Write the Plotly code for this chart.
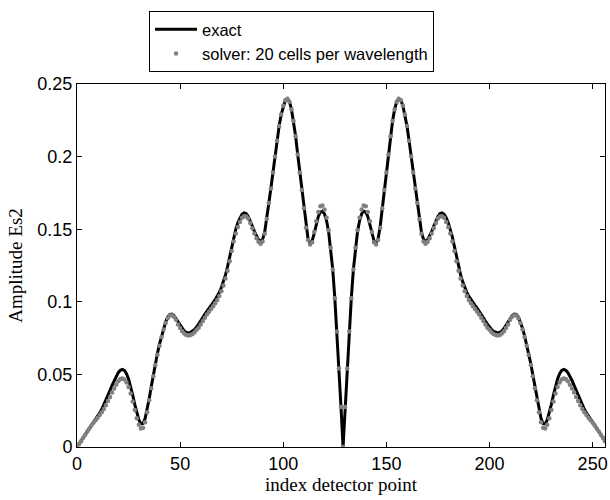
import plotly.graph_objects as go

# detector index 0..256
index = list(range(257))

exact_left = [0.0, 0.002, 0.004, 0.0063, 0.0085, 0.0107, 0.0128, 0.015, 0.017, 0.019,
 0.0212, 0.0235, 0.026, 0.029, 0.0322, 0.0356, 0.039, 0.0425, 0.0458, 0.0488,
 0.0512, 0.0528, 0.0534, 0.0527, 0.0505, 0.0468, 0.0418, 0.0358, 0.0294, 0.0233,
 0.0186, 0.016, 0.0162, 0.0195, 0.0255, 0.0332, 0.0415, 0.0497, 0.0575, 0.0645,
 0.0708, 0.0766, 0.0818, 0.0862, 0.0895, 0.0913, 0.0915, 0.0905, 0.0885, 0.0862,
 0.0838, 0.0816, 0.0799, 0.0789, 0.0786, 0.0789, 0.0797, 0.0809, 0.0826, 0.0846,
 0.0868, 0.0892, 0.0915, 0.0937, 0.0957, 0.0976, 0.0995, 0.1015, 0.1038, 0.1065,
 0.1098, 0.1138, 0.1185, 0.1243, 0.131, 0.138, 0.1445, 0.150, 0.1545, 0.158,
 0.1603, 0.1612, 0.1608, 0.1588, 0.1558, 0.1522, 0.1485, 0.1452, 0.1428, 0.1415,
 0.143, 0.148, 0.157, 0.168, 0.178, 0.189, 0.200, 0.211, 0.221, 0.229,
 0.235, 0.2388, 0.2398, 0.2378, 0.2325, 0.2245, 0.214, 0.2015, 0.189, 0.177,
 0.1645, 0.152, 0.1435, 0.1405, 0.142, 0.147, 0.1535, 0.1588, 0.1618, 0.1625,
 0.1605, 0.1558, 0.1482, 0.1372, 0.1222, 0.1025, 0.0795, 0.054, 0.0276, 0.0]

exact_right = [0.0276, 0.054, 0.0795, 0.1025, 0.1222, 0.1372, 0.1482, 0.1558, 0.1605,
 0.1625, 0.1618, 0.1588, 0.1535, 0.147, 0.142, 0.1405, 0.1435, 0.152, 0.1645,
 0.177, 0.189, 0.2015, 0.214, 0.2245, 0.2325, 0.2378, 0.2398, 0.2388, 0.235,
 0.229, 0.221, 0.211, 0.200, 0.189, 0.178, 0.168, 0.157, 0.148, 0.143,
 0.1415, 0.1428, 0.1452, 0.1485, 0.1522, 0.1558, 0.1588, 0.1608, 0.1612, 0.1603,
 0.158, 0.1545, 0.150, 0.1445, 0.138, 0.131, 0.1243, 0.1185, 0.1138, 0.1098,
 0.1065, 0.1038, 0.1015, 0.0995, 0.0976, 0.0957, 0.0937, 0.0915, 0.0892, 0.0868,
 0.0846, 0.0826, 0.0809, 0.0797, 0.0789, 0.0786, 0.0789, 0.0799, 0.0816, 0.0838,
 0.0862, 0.0885, 0.0905, 0.0915, 0.0913, 0.0895, 0.0862, 0.0818, 0.0766, 0.0708,
 0.0645, 0.0575, 0.0497, 0.0415, 0.0332, 0.0255, 0.0195, 0.0162, 0.016, 0.0186,
 0.0233, 0.0294, 0.0358, 0.0418, 0.0468, 0.0505, 0.0527, 0.0534, 0.0528, 0.0512,
 0.0488, 0.0458, 0.0425, 0.039, 0.0356, 0.0322, 0.029, 0.026, 0.0235, 0.0212,
 0.019, 0.017, 0.015, 0.0128, 0.0107, 0.0085, 0.0063, 0.004]

solver_left = [0.0, 0.002, 0.004, 0.0063, 0.0085, 0.0107, 0.0128, 0.0148, 0.0167, 0.0185,
 0.0202, 0.022, 0.024, 0.0262, 0.0287, 0.0316, 0.0345, 0.0375, 0.0403, 0.0428,
 0.0452, 0.0468, 0.0472, 0.0465, 0.0445, 0.0413, 0.0368, 0.0313, 0.0254, 0.0198,
 0.0153, 0.0128, 0.0132, 0.017, 0.024, 0.0322, 0.0405, 0.0487, 0.0565, 0.0635,
 0.0698, 0.0758, 0.081, 0.0854, 0.0887, 0.0905, 0.0907, 0.0897, 0.0877, 0.0844,
 0.082, 0.0798, 0.0781, 0.0771, 0.0768, 0.0771, 0.0779, 0.0791, 0.0808, 0.0821,
 0.0843, 0.0867, 0.089, 0.0912, 0.0932, 0.0951, 0.097, 0.099, 0.1013, 0.104,
 0.1073, 0.1113, 0.116, 0.1213, 0.128, 0.135, 0.1415, 0.147, 0.1515, 0.155,
 0.1578, 0.159, 0.1588, 0.1573, 0.1543, 0.1507, 0.147, 0.1437, 0.1413, 0.14,
 0.1415, 0.1468, 0.157, 0.168, 0.178, 0.189, 0.2, 0.211, 0.221, 0.229,
 0.235, 0.2388, 0.2398, 0.2378, 0.2325, 0.2245, 0.214, 0.2015, 0.189, 0.177,
 0.1645, 0.151, 0.1425, 0.1395, 0.141, 0.148, 0.1555, 0.1618, 0.1658, 0.1663,
 0.1635, 0.1578, 0.1492, 0.1372, 0.1222, 0.1025, 0.0795, 0.054, 0.0276, 0.0]

solver_right = [0.0276, 0.054, 0.0795, 0.1025, 0.1222, 0.1372, 0.1492, 0.1578, 0.1635,
 0.1663, 0.1658, 0.1618, 0.1555, 0.148, 0.141, 0.1395, 0.1425, 0.151, 0.1645,
 0.177, 0.189, 0.2015, 0.214, 0.2245, 0.2325, 0.2378, 0.2398, 0.2388, 0.235,
 0.229, 0.221, 0.211, 0.2, 0.189, 0.178, 0.168, 0.157, 0.1468, 0.1415,
 0.14, 0.1413, 0.1437, 0.147, 0.1507, 0.1543, 0.1573, 0.1588, 0.159, 0.1578,
 0.155, 0.1515, 0.147, 0.1415, 0.135, 0.128, 0.1213, 0.116, 0.1113, 0.1073,
 0.104, 0.1013, 0.099, 0.097, 0.0951, 0.0932, 0.0912, 0.089, 0.0867, 0.0843,
 0.0821, 0.0808, 0.0791, 0.0779, 0.0771, 0.0768, 0.0771, 0.0781, 0.0798, 0.082,
 0.0844, 0.0877, 0.0897, 0.0907, 0.0905, 0.0887, 0.0854, 0.081, 0.0758, 0.0698,
 0.0635, 0.0565, 0.0487, 0.0405, 0.0322, 0.024, 0.017, 0.0132, 0.0128, 0.0153,
 0.0198, 0.0254, 0.0313, 0.0368, 0.0413, 0.0445, 0.0465, 0.0472, 0.0468, 0.0452,
 0.0428, 0.0403, 0.0375, 0.0345, 0.0316, 0.0287, 0.0262, 0.024, 0.022, 0.0202,
 0.0185, 0.0167, 0.0148, 0.0128, 0.0107, 0.0085, 0.0063, 0.004]

exact = exact_left + exact_right
solver = solver_left + solver_right

x_ticks = [0, 50, 100, 150, 200, 250]
x_tick_text = ["0", "50", "100", "150", "200", "250"]
y_ticks = [0, 0.05, 0.1, 0.15, 0.2, 0.25]
y_tick_text = ["0", "0.05", "0.1", "0.15", "0.2", "0.25"]

sans = "Liberation Sans, Arial, Helvetica, sans-serif"
serif = "Liberation Serif, Times New Roman, serif"

fig = go.Figure()
fig.add_trace(go.Scatter(x=index, y=exact, mode="lines", name="exact",
                         line=dict(color="black", width=3)))
fig.add_trace(go.Scatter(x=index, y=solver, mode="markers",
                         name="solver: 20 cells per wavelength",
                         marker=dict(color="#808080", size=4.5)))

axis_common = dict(showgrid=False, zeroline=False, showline=True, linecolor="black",
                   linewidth=1, mirror="ticks", ticks="inside", ticklen=5,
                   tickcolor="black", tickfont=dict(family=sans, size=18, color="black"))

fig.update_layout(
    width=610, height=500,
    margin=dict(l=77, r=5, t=84, b=53, autoexpand=False),
    paper_bgcolor="white", plot_bgcolor="white",
    xaxis=dict(range=[0, 256], tickvals=x_ticks, ticktext=x_tick_text,
               title=dict(text="index detector point",
                          font=dict(family=serif, size=19, color="black"), standoff=5),
               **axis_common),
    yaxis=dict(range=[0, 0.25], tickvals=y_ticks, ticktext=y_tick_text,
               title=dict(text="Amplitude Es2",
                          font=dict(family=serif, size=19, color="black"), standoff=9),
               **axis_common),
    legend=dict(x=0.1364, y=1.2013, xanchor="left", yanchor="top",
                bgcolor="white", bordercolor="black", borderwidth=1,
                font=dict(family=sans, size=16.5, color="black"),
                tracegroupgap=0, itemwidth=42),
    showlegend=True,
)

fig.write_html("out.html", config={"displayModeBar": False},
               post_script="document.body.style.margin='0';")
